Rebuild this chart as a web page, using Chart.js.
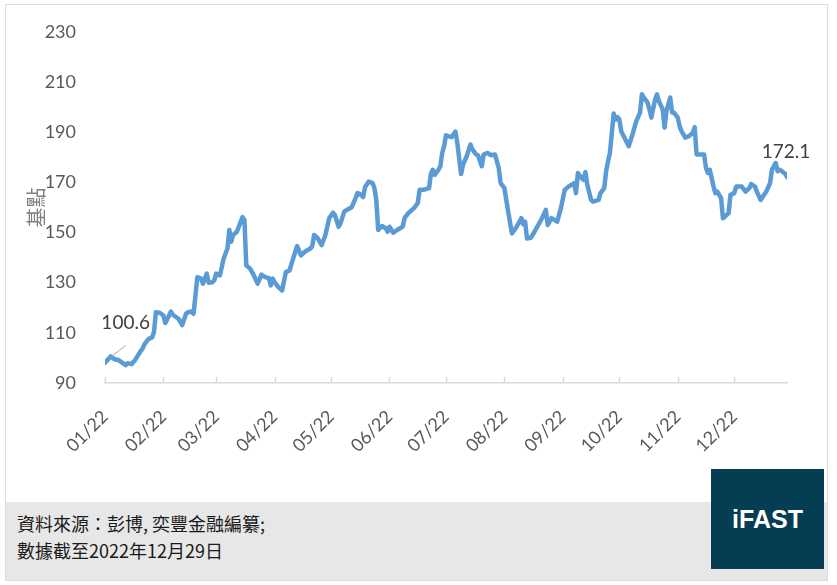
<!DOCTYPE html>
<html>
<head>
<meta charset="utf-8">
<script src="https://cdn.jsdelivr.net/npm/chart.js@4.4.1/dist/chart.umd.min.js"></script>
<style>
  body { margin: 0; background: #fff; width: 837px; height: 585px; overflow: hidden; }
  #frame { position: absolute; left: 5px; top: 4px; width: 823px; height: 577px; border: 1px solid #dcdcdc; box-sizing: border-box; }
  #band { position: absolute; left: 6px; top: 502px; width: 821px; height: 78px; background: #e7e7e7; }
  #wrap { position: absolute; left: 0; top: 0; width: 837px; height: 500px; }
  #source { position: absolute; left: 17px; top: 510px; font: 18px "Noto Sans CJK TC"; line-height: 27px; color: #1a1a1a; }
  #logo { position: absolute; left: 711px; top: 469px; width: 113px; height: 100px; background: #053d52; color: #fff;
          font: bold 25px "Liberation Sans"; display: flex; align-items: center; justify-content: center; }
</style>
</head>
<body>
<div id="frame"></div>
<div id="band"></div>
<div id="wrap"><canvas id="bpChart" width="837" height="500"></canvas></div>
<div id="source">資料來源：彭博, 奕豐金融編纂;<br>數據截至2022年12月29日</div>
<div id="logo">iFAST</div>
<script>
// day of year 2022 (0 = 1 Jan) and index level
const days = [
  0, 3, 5, 7, 11, 12, 14, 16, 19, 20,
  21, 23, 25, 26, 27, 29, 31, 32, 34, 35,
  36, 39, 41, 43, 44, 46, 47, 49, 51, 52,
  54, 55, 57, 58, 59, 61, 63, 65, 66, 67,
  68, 70, 73, 74, 75, 77, 79, 81, 82, 83,
  85, 87, 88, 89, 90, 92, 94, 96, 98, 99,
  102, 104, 106, 109, 110, 111, 113, 115, 117, 119,
  121, 122, 124, 125, 127, 129, 131, 133, 134, 136,
  137, 138, 140, 142, 143, 144, 145, 147, 149, 150,
  151, 153, 155, 158, 159, 161, 164, 166, 167, 169,
  172, 173, 174, 175, 177, 178, 179, 180, 181, 182,
  184, 186, 187, 189, 190, 192, 194, 195, 197, 198,
  200, 201, 203, 205, 207, 209, 210, 212, 214, 216,
  218, 220, 221, 222, 223, 224, 226, 228, 229, 232,
  234, 235, 237, 240, 242, 244, 246, 249, 250, 251,
  253, 254, 255, 256, 258, 259, 262, 263, 265, 266,
  267, 268, 270, 271, 272, 273, 274, 278, 280, 282,
  284, 285, 286, 288, 289, 290, 292, 293, 294, 296,
  297, 298, 300, 301, 302, 304, 305, 306, 308, 310,
  312, 313, 314, 316, 318, 319, 320, 321, 322, 323,
  324, 325, 327, 328, 329, 331, 332, 334, 335, 338,
  340, 342, 343, 345, 346, 348, 351, 353, 354, 355,
  356, 357, 358, 359, 360, 361, 362
];
const values = [
  98.1, 100.6, 99.5, 99.2, 97.1, 97.9, 97.5, 99.2, 102.8, 103.8,
  105.5, 107.5, 108.2, 110.2, 118.2, 118.0, 116.9, 113.9, 116.9, 118.5,
  117.2, 115.6, 113.1, 117.6, 118.2, 118.5, 117.6, 132.2, 131.6, 129.6,
  133.6, 130.0, 130.2, 130.9, 133.6, 132.9, 139.6, 143.6, 151.0, 146.3,
  149.0, 150.3, 156.1, 155.0, 136.9, 135.6, 132.9, 129.6, 131.3, 133.2,
  132.2, 131.8, 128.9, 131.6, 130.2, 128.2, 126.9, 134.2, 134.9, 137.6,
  144.6, 140.9, 142.3, 143.6, 144.6, 149.0, 147.6, 145.0, 149.0, 155.7,
  157.9, 157.0, 152.3, 153.7, 158.3, 159.3, 160.1, 163.7, 165.7, 165.0,
  164.1, 168.0, 170.3, 169.7, 167.7, 163.0, 151.0, 152.6, 151.7, 150.3,
  152.3, 149.9, 151.0, 152.3, 155.7, 157.7, 159.7, 161.7, 167.0, 167.0,
  167.7, 173.4, 175.0, 173.0, 175.0, 176.4, 181.7, 184.4, 188.8, 188.4,
  188.0, 190.2, 185.7, 173.3, 177.0, 180.4, 185.1, 183.1, 181.1, 180.8,
  176.4, 181.1, 181.7, 180.8, 181.1, 175.7, 169.7, 167.7, 158.3, 149.6,
  151.7, 154.3, 155.7, 153.3, 154.3, 147.6, 147.9, 150.3, 151.7, 155.7,
  159.0, 153.0, 155.7, 154.3, 159.7, 167.0, 168.3, 169.7, 165.7, 173.7,
  171.7, 171.0, 174.1, 169.0, 163.0, 162.3, 163.0, 165.7, 167.7, 174.4,
  178.4, 181.7, 197.4, 195.0, 196.0, 195.1, 190.4, 184.4, 189.1, 194.4,
  197.8, 205.1, 203.8, 201.8, 199.1, 195.8, 203.1, 205.1, 202.4, 199.1,
  191.8, 198.4, 203.8, 197.8, 197.8, 195.8, 192.4, 190.4, 187.8, 188.4,
  189.8, 192.0, 181.1, 181.1, 181.1, 175.7, 173.7, 175.0, 171.7, 168.3,
  165.7, 166.3, 163.7, 155.7, 156.3, 157.7, 165.0, 165.7, 168.3, 168.3,
  166.3, 167.7, 169.3, 168.3, 166.3, 163.0, 166.3, 169.7, 175.0, 176.4,
  177.7, 174.4, 175.0, 174.6, 174.0, 173.5, 172.1
];
const monthStarts = [0, 31, 59, 90, 120, 151, 181, 212, 243, 273, 304, 334];
const monthLabels = ['01/22', '02/22', '03/22', '04/22', '05/22', '06/22',
                     '07/22', '08/22', '09/22', '10/22', '11/22', '12/22'];
const yTicks = [90, 110, 130, 150, 170, 190, 210, 230];
const labelIdx = [1, values.length - 1]; // points carrying a data label

// Excel style tick marks pointing up into the plot
const insideTicks = {
  id: 'insideTicks',
  afterDraw(chart) {
    const { ctx, scales: { x } } = chart;
    ctx.save();
    ctx.strokeStyle = '#d9d9d9';
    ctx.lineWidth = 1.5;
    x.ticks.forEach(t => {
      const px = Math.round(x.getPixelForValue(t.value)) + 0.5;
      ctx.beginPath();
      ctx.moveTo(px, x.top);
      ctx.lineTo(px, x.top - 6);
      ctx.stroke();
    });
    ctx.restore();
  }
};

const pointLabels = {
  id: 'pointLabels',
  afterDatasetsDraw(chart) {
    const { ctx, scales: { x, y } } = chart;
    ctx.save();
    ctx.font = '19px Lato';
    ctx.fillStyle = '#404040';
    ctx.textAlign = 'center';
    ctx.textBaseline = 'middle';
    // first label with its leader line
    let i = labelIdx[0];
    let px = x.getPixelForValue(days[i]), py = y.getPixelForValue(values[i]);
    ctx.strokeStyle = '#a6a6a6';
    ctx.lineWidth = 1;
    ctx.beginPath();
    ctx.moveTo(px + 1, py);
    ctx.lineTo(px + 15, py - 11);
    ctx.stroke();
    ctx.fillText(values[i].toFixed(1), px + 15, py - 34);
    // last value
    i = labelIdx[1];
    px = x.getPixelForValue(days[i]);
    py = y.getPixelForValue(values[i]);
    ctx.fillText(values[i].toFixed(1), px - 1, py - 25);
    ctx.restore();
  }
};

const ctx = document.getElementById('bpChart').getContext('2d');
new Chart(ctx, {
  type: 'line',
  data: {
    datasets: [{
      data: days.map((d, i) => ({ x: d, y: values[i] })),
      borderColor: '#5b9bd5',
      borderWidth: 4.5,
      pointRadius: 0,
      tension: 0,
      borderJoinStyle: 'round',
      borderCapStyle: 'round'
    }]
  },
  options: {
    responsive: false,
    animation: false,
    layout: { padding: { left: 20, top: 24, right: 50, bottom: 0 } },
    plugins: { legend: { display: false }, tooltip: { enabled: false } },
    scales: {
      x: {
        type: 'linear',
        min: 0,
        max: 362,
        afterBuildTicks: s => { s.ticks = monthStarts.map(v => ({ value: v })); },
        afterFit: s => { s.height = 117; },
        grid: { display: false },
        border: { display: true, color: '#d9d9d9', width: 1.5 },
        ticks: {
          autoSkip: false,
          minRotation: 45,
          maxRotation: 45,
          padding: 15,
          color: '#595959',
          font: { family: 'Lato', size: 18 },
          callback: v => monthLabels[monthStarts.indexOf(v)]
        }
      },
      y: {
        min: 90,
        max: 230,
        afterBuildTicks: s => { s.ticks = yTicks.map(v => ({ value: v })); },
        afterFit: s => { s.width = 85; },
        grid: { display: false },
        border: { display: false },
        ticks: { padding: 21, color: '#595959', font: { family: 'Lato', size: 18 } },
        title: { display: true, text: '基點', color: '#7f7f7f', font: { family: 'Noto Sans CJK TC', size: 20 } }
      }
    }
  },
  plugins: [insideTicks, pointLabels]
});
</script>
</body>
</html>
